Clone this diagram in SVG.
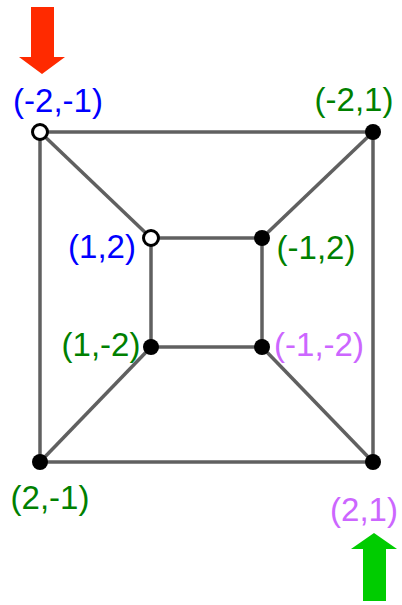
<svg xmlns="http://www.w3.org/2000/svg" width="402" height="605" viewBox="0 0 402 605">
<style>
.e{stroke:#606060;stroke-width:3.5;fill:none}
.f{fill:#000}
.o{fill:#fff;stroke:#000;stroke-width:3}
text{font-family:"Liberation Sans",Arial,sans-serif;font-size:33px;text-anchor:middle}
.b{fill:#0000ff}.g{fill:#008000}.p{fill:#cc66ff}
</style>
<rect width="402" height="605" fill="#fff"/>
<g id="connectors">
<line class="e" x1="40" y1="132" x2="373" y2="132"/>
<line class="e" x1="40" y1="132" x2="40" y2="462"/>
<line class="e" x1="373" y1="132" x2="373" y2="462"/>
<line class="e" x1="40" y1="462" x2="373" y2="462"/>
<line class="e" x1="151" y1="238" x2="262" y2="238"/>
<line class="e" x1="151" y1="238" x2="151" y2="347"/>
<line class="e" x1="262" y1="238" x2="262" y2="347"/>
<line class="e" x1="151" y1="347" x2="262" y2="347"/>
<line class="e" x1="40" y1="132" x2="151" y2="238"/>
<line class="e" x1="373" y1="132" x2="262" y2="238"/>
<line class="e" x1="40" y1="462" x2="151" y2="347"/>
<line class="e" x1="373" y1="462" x2="262" y2="347"/>
</g>
<g id="arrows">
<polygon id="red-arrow" fill="#ff2a00" points="31,7 54,7 54,57 65,57 42,74 19,57 31,57"/>
<polygon id="green-arrow" fill="#00cc00" points="363,601 386,601 386,549 397,549 374,533 351,549 363,549"/>
</g>
<g id="n-2-1"><circle class="o" cx="40" cy="132" r="7.5"/><text class="b" x="58" y="112">(-2,-1)</text></g>
<g id="n-21"><circle class="f" cx="373" cy="132" r="8"/><text class="g" x="354" y="111">(-2,1)</text></g>
<g id="n12"><circle class="o" cx="151" cy="238" r="7.5"/><text class="b" x="102" y="258">(1,2)</text></g>
<g id="n-12"><circle class="f" cx="262" cy="238" r="8"/><text class="g" x="316" y="259">(-1,2)</text></g>
<g id="n1-2"><circle class="f" cx="151" cy="347" r="8"/><text class="g" x="101" y="356">(1,-2)</text></g>
<g id="n-1-2"><circle class="f" cx="262" cy="347" r="8"/><text class="p" x="319" y="356">(-1,-2)</text></g>
<g id="n2-1"><circle class="f" cx="40" cy="462" r="8"/><text class="g" x="50" y="509">(2,-1)</text></g>
<g id="n21"><circle class="f" cx="373" cy="462" r="8"/><text class="p" x="364" y="521">(2,1)</text></g>
</svg>
